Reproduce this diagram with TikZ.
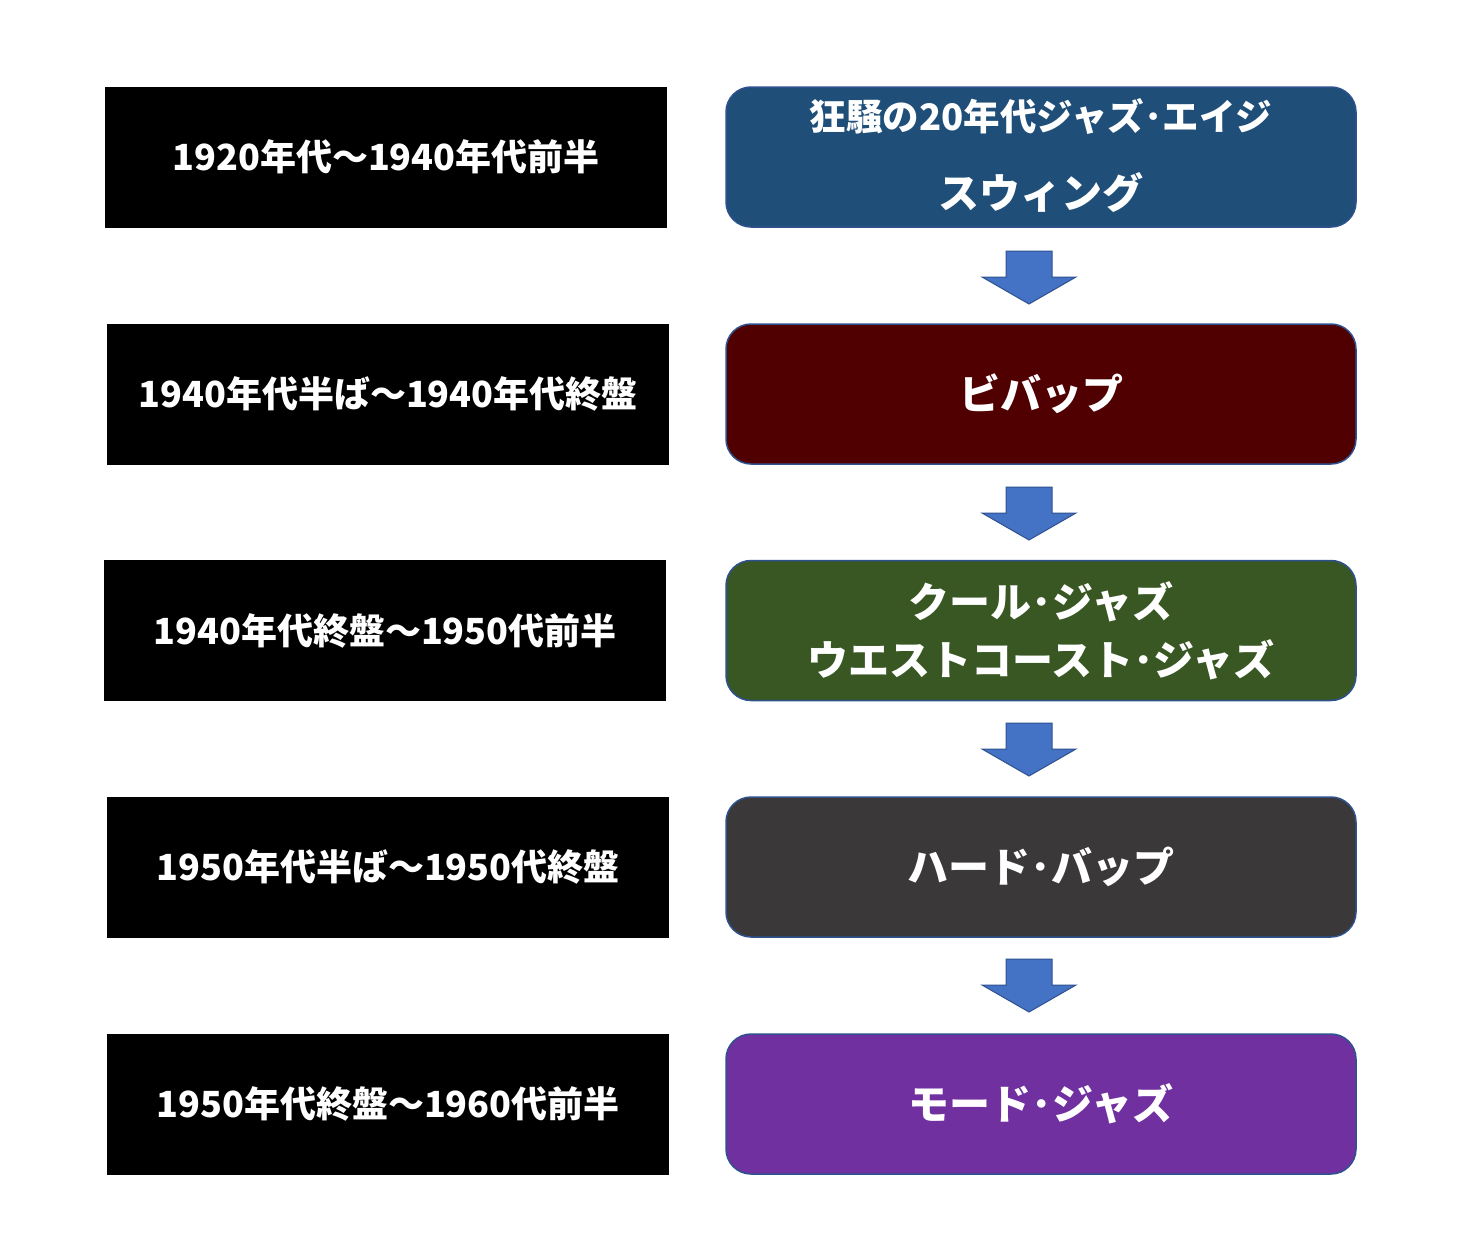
\documentclass[tikz,border=0pt]{standalone}
\usepackage{fontspec}
\newfontfamily\jp{Noto Sans CJK JP}
\definecolor{swingblue}{HTML}{1F4E79}
\definecolor{bebopred}{HTML}{500000}
\definecolor{coolgreen}{HTML}{385723}
\definecolor{hardgray}{HTML}{3A3838}
\definecolor{modepurple}{HTML}{7030A0}
\definecolor{edgeblue}{HTML}{2F528F}
\definecolor{arrowblue}{HTML}{4472C4}
\tikzset{
  erabox/.style={fill=black, draw=none, minimum width=562pt, minimum height=141pt, inner sep=0pt,
    text=white, font=\jp\bfseries\fontsize{36}{42}\selectfont},
  stylebox/.style={rounded corners=25pt, draw=edgeblue, line width=1.5pt, minimum width=630pt,
    minimum height=140pt, inner sep=0pt, text=white, align=center},
  bigtxt/.style={font=\jp\bfseries\fontsize{41}{48}\selectfont},
  arrowshape/.style={fill=arrowblue, draw=edgeblue, line width=1pt, line join=miter},
  pics/downarrow/.style={code={
    \draw[arrowshape] (-23,0) -- (23,0) -- (23,26) -- (47,26) -- (0,53) -- (-47,26) -- (-23,26) -- cycle;
  }}
}
\begin{document}
\begin{tikzpicture}[x=1pt,y=-1pt]
\useasboundingbox (0,0) rectangle (1479,1247);
\fill[white] (0,0) rectangle (1479,1247);
% left era boxes
\node[erabox] (e1) at (386,157) {1920年代～1940年代前半};
\node[erabox] (e2) at (388,394) {1940年代半ば～1940年代終盤};
\node[erabox] (e3) at (385,630.5) {1940年代終盤～1950代前半};
\node[erabox] (e4) at (388,867) {1950年代半ば～1950代終盤};
\node[erabox] (e5) at (388,1104) {1950年代終盤～1960代前半};
% right style boxes
\node[stylebox, fill=swingblue] (s1) at (1041,157) {};
\node[font=\jp\bfseries\fontsize{36.5}{40}\selectfont, text=white] (s1a) at (1041,117) {狂騒の20年代ジャズ･エイジ};
\node[font=\jp\bfseries\fontsize{41}{48}\selectfont, text=white] (s1b) at (1041,193) {スウィング};
\node[stylebox, fill=bebopred, bigtxt] (s2) at (1041,394) {ビバップ};
\node[stylebox, fill=coolgreen] (s3) at (1041,630.5) {};
\node[bigtxt, text=white] (s3a) at (1041,602) {クール･ジャズ};
\node[bigtxt, text=white] (s3b) at (1041,660) {ウエストコースト･ジャズ};
\node[stylebox, fill=hardgray, bigtxt] (s4) at (1041,867) {ハード･バップ};
\node[stylebox, fill=modepurple, bigtxt] (s5) at (1041,1104) {モード･ジャズ};
% arrows
\coordinate (a1) at (1029,251);
\coordinate (a2) at (1029,487);
\coordinate (a3) at (1029,723);
\coordinate (a4) at (1029,959);
\foreach \a in {a1,a2,a3,a4} \pic at (\a) {downarrow};
\end{tikzpicture}
\end{document}
